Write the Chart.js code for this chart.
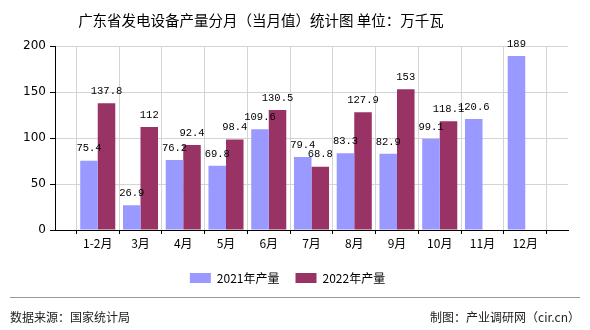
<!DOCTYPE html>
<html>
<head>
<meta charset="utf-8">
<script src="https://cdn.jsdelivr.net/npm/chart.js@4/dist/chart.umd.min.js"></script>
<style>
  body { margin: 0; background: #fff; }
  #wrap { position: relative; width: 590px; height: 330px; font-family: "Noto Sans CJK SC", sans-serif; }
  #title { position: absolute; left: 0; top: 9px; width: 522px; text-align: center; font-size: 14.5px; color: #000; }
  #line { position: absolute; left: 10px; top: 297px; width: 570px; height: 0; border-top: 1px solid #999; }
  #src { position: absolute; left: 10px; top: 308px; font-size: 12px; color: #222; }
  #maker { position: absolute; right: 10px; top: 308px; font-size: 12px; color: #222; }
  canvas { position: absolute; left: 0; top: 0; }
</style>
</head>
<body>
<div id="wrap">
  <canvas id="canvas" width="590" height="330"></canvas>
  <div id="title">广东省发电设备产量分月（当月值）统计图 单位：万千瓦</div>
  <div id="line"></div>
  <div id="src">数据来源：国家统计局</div>
  <div id="maker">制图：产业调研网（cir.cn）</div>
</div>
<script>
    var months = ["1-2月", "3月", "4月", "5月", "6月", "7月", "8月", "9月", "10月", "11月", "12月"];
    var output2021 = [75.4, 26.9, 76.2, 69.8, 109.6, 79.4, 83.3, 82.9, 99.1, 120.6, 189];
    var output2022 = [137.8, 112, 92.4, 98.4, 130.5, 68.8, 127.9, 153, 118.1, null, null];
    var yTicks = [0, 50, 100, 150, 200];

    // empty slot at each end so the months sit on the inner grid lines
    var pad = function(arr) {
        return [null].concat(arr, [null]);
    };

    var valueLabels = {
        id: 'valueLabels',
        afterDatasetsDraw: function(chart) {
            var ctx = chart.ctx;
            ctx.save();
            ctx.font = '10.5px "Liberation Mono", monospace';
            ctx.fillStyle = '#000';
            ctx.textAlign = 'center';
            ctx.textBaseline = 'middle';
            chart.data.datasets.forEach(function(ds, i) {
                var meta = chart.getDatasetMeta(i);
                meta.data.forEach(function(bar, j) {
                    var v = ds.data[j];
                    if (v === null || v === undefined) return;
                    ctx.fillText(String(v), bar.x, bar.y - 12);
                });
            });
            ctx.restore();
        }
    };

    var config = {
        type: 'bar',
        data: {
            labels: pad(months).map(function(m) { return m || ''; }),
            datasets: [{
                label: "2021年产量",
                backgroundColor: "#9999ff",
                data: pad(output2021)
            }, {
                label: "2022年产量",
                backgroundColor: "#993366",
                data: pad(output2022)
            }]
        },
        options: {
            responsive: false,
            animation: false,
            layout: {
                padding: { top: 46, left: 7, right: 22, bottom: 36 }
            },
            plugins: {
                legend: {
                    position: 'bottom',
                    labels: {
                        boxWidth: 21,
                        boxHeight: 10,
                        padding: 16,
                        color: '#000',
                        font: { size: 12, family: '"Noto Sans CJK SC", sans-serif' }
                    }
                },
                tooltip: { enabled: false }
            },
            datasets: {
                bar: { categoryPercentage: 0.82, barPercentage: 1 }
            },
            scales: {
                x: {
                    offset: false,
                    grid: { color: '#d4d4d4', tickColor: '#000', tickLength: 4 },
                    border: { color: '#000' },
                    ticks: {
                        autoSkip: false,
                        maxRotation: 0,
                        padding: 2,
                        color: '#000',
                        font: { size: 12, family: '"Noto Sans CJK SC", sans-serif' }
                    },
                    afterFit: function(scale) { scale.height = 26; }
                },
                y: {
                    min: 0,
                    max: 200,
                    afterBuildTicks: function(scale) {
                        scale.ticks = yTicks.map(function(v) { return { value: v }; });
                    },
                    grid: { color: '#d4d4d4', tickColor: '#000', tickLength: 5 },
                    border: { color: '#000' },
                    ticks: {
                        padding: 4,
                        color: '#000',
                        font: { size: 12, family: '"DejaVu Sans", sans-serif' }
                    },
                    afterFit: function(scale) { scale.width = 48; }
                }
            }
        },
        plugins: [valueLabels]
    };

    window.onload = function() {
        window.myBar = new Chart(document.getElementById("canvas"), config);
    };
</script>
</body>
</html>
